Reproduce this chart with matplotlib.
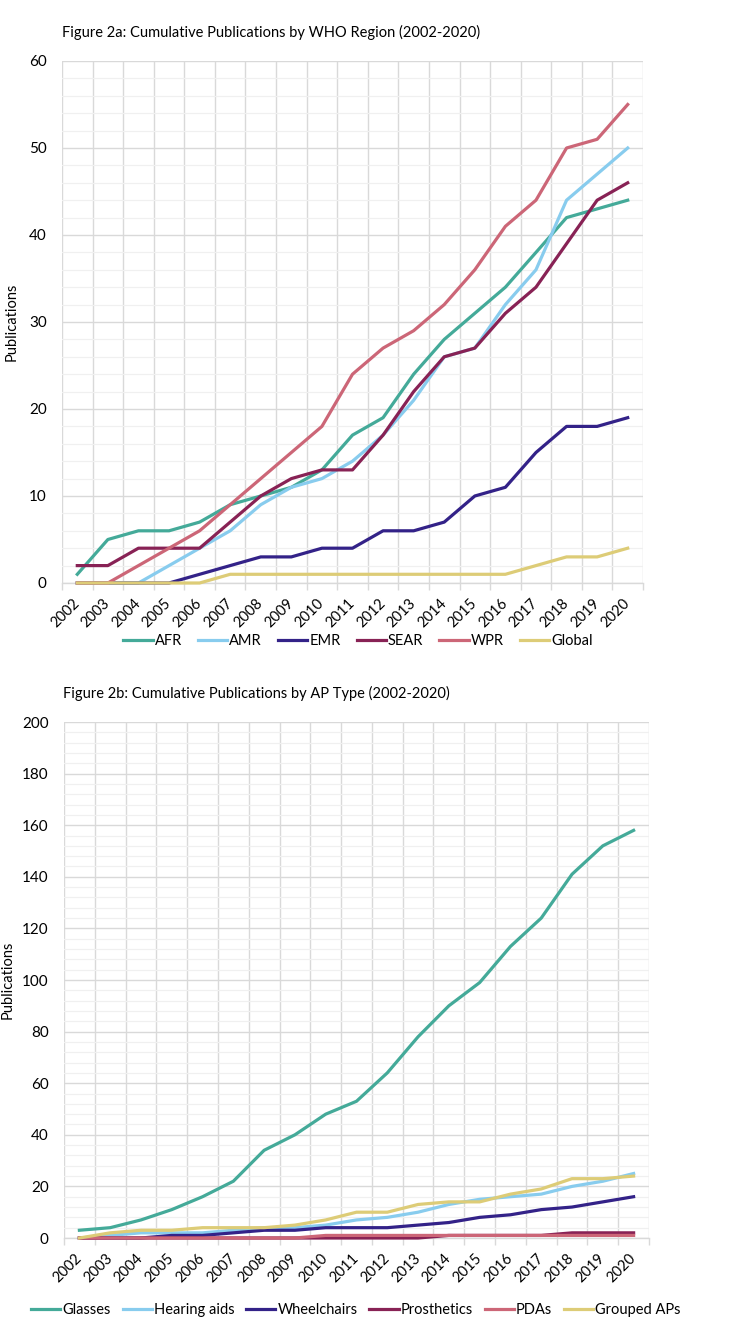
import matplotlib
matplotlib.use("Agg")
import matplotlib.pyplot as plt
import numpy as np

plt.rcParams['font.family'] = ['Lato', 'DejaVu Sans']

years = [str(y) for y in range(2002, 2021)]

# Figure 2a: cumulative publications by WHO region
afr    = [1, 5, 6, 6, 7, 9, 10, 11, 13, 17, 19, 24, 28, 31, 34, 38, 42, 43, 44]
amr    = [0, 0, 0, 2, 4, 6, 9, 11, 12, 14, 17, 21, 26, 27, 32, 36, 44, 47, 50]
emr    = [0, 0, 0, 0, 1, 2, 3, 3, 4, 4, 6, 6, 7, 10, 11, 15, 18, 18, 19]
sear   = [2, 2, 4, 4, 4, 7, 10, 12, 13, 13, 17, 22, 26, 27, 31, 34, 39, 44, 46]
wpr    = [0, 0, 2, 4, 6, 9, 12, 15, 18, 24, 27, 29, 32, 36, 41, 44, 50, 51, 55]
glob   = [0, 0, 0, 0, 0, 1, 1, 1, 1, 1, 1, 1, 1, 1, 1, 2, 3, 3, 4]
region_labels = ['AFR', 'AMR', 'EMR', 'SEAR', 'WPR', 'Global']

# Figure 2b: cumulative publications by AP type
glasses     = [3, 4, 7, 11, 16, 22, 34, 40, 48, 53, 64, 78, 90, 99, 113, 124, 141, 152, 158]
hearing     = [0, 1, 2, 2, 2, 3, 4, 4, 5, 7, 8, 10, 13, 15, 16, 17, 20, 22, 25]
wheelchairs = [0, 0, 0, 1, 1, 2, 3, 3, 4, 4, 4, 5, 6, 8, 9, 11, 12, 14, 16]
prosthetics = [0, 0, 0, 0, 0, 0, 0, 0, 0, 0, 0, 0, 1, 1, 1, 1, 2, 2, 2]
pdas        = [0, 0, 0, 0, 0, 0, 0, 0, 1, 1, 1, 1, 1, 1, 1, 1, 1, 1, 1]
grouped     = [0, 2, 3, 3, 4, 4, 4, 5, 7, 10, 10, 13, 14, 14, 17, 19, 23, 23, 24]
ap_labels = ['Glasses', 'Hearing aids', 'Wheelchairs', 'Prosthetics', 'PDAs', 'Grouped APs']

colors = ['#44AA99', '#88CCEE', '#332288', '#882255', '#CC6677', '#DDCC77']

W, H = 750, 1333
fig = plt.figure(figsize=(7.5, 13.33), dpi=100)

FS = 10.5
GRID_MAJ = '#D9D9D9'
GRID_MIN = '#F0F0F0'


def style_axes(ax, ymax, ymaj, ymin_step):
    n = len(years)
    x = np.arange(n)
    ax.set_xlim(-0.5, n - 0.5)
    ax.set_ylim(0, ymax)
    ax.set_xticks(x)
    ax.set_xticklabels(years, rotation=45, ha='right', va='center',
                       rotation_mode='anchor', fontsize=FS)
    ax.set_xticks(np.arange(-0.5, n, 1.0), minor=True)
    ax.set_yticks(np.arange(0, ymax + 0.01, ymaj))
    ax.set_yticks(np.arange(0, ymax + 0.01, ymin_step), minor=True)
    ax.tick_params(axis='x', which='major', length=0, pad=13)
    ax.tick_params(axis='x', which='minor', length=5, color=GRID_MAJ, width=1)
    ax.tick_params(axis='y', which='both', length=0, pad=11, labelsize=FS + 0.5)
    ax.grid(False)
    ax.grid(axis='y', which='minor', color=GRID_MIN, linewidth=0.9, zorder=0)
    ax.grid(axis='y', which='major', color=GRID_MAJ, linewidth=1.0, zorder=0)
    ax.grid(axis='x', which='minor', color=GRID_MAJ, linewidth=1.0, zorder=0)
    for s in ['top', 'right', 'left']:
        ax.spines[s].set_visible(False)
    ax.spines['bottom'].set_color(GRID_MAJ)
    ax.spines['bottom'].set_linewidth(1.0)
    ax.set_axisbelow(True)
    ax.set_ylabel('Publications', fontsize=FS)
    return x


# ---- Top chart ----
ax1 = fig.add_axes([62 / W, 1 - 583 / H, 581 / W, 522 / H])
x = style_axes(ax1, 60, 10, 2)
ax1.yaxis.set_label_coords(-0.075, 0.5)
for series, lab, c in zip([afr, amr, emr, sear, wpr, glob], region_labels, colors):
    ax1.plot(x, series, color=c, linewidth=2.3, label=lab, clip_on=False, zorder=3)
fig.text(62 / W, 1 - 32 / H,
         'Figure 2a: Cumulative Publications by WHO Region (2002-2020)',
         fontsize=FS, va='center', ha='left')
h, l = ax1.get_legend_handles_labels()
fig.legend(h, l, loc='center', bbox_to_anchor=(358 / W, 1 - 641 / H), ncol=6,
           frameon=False, fontsize=FS, handlelength=2.0, handletextpad=0.15,
           columnspacing=1.1, borderaxespad=0)

# ---- Bottom chart ----
ax2 = fig.add_axes([64 / W, 1 - 1238 / H, 585 / W, 516 / H])
x = style_axes(ax2, 200, 20, 4)
ax2.yaxis.set_label_coords(-0.085, 0.5)
for series, lab, c in zip([glasses, hearing, wheelchairs, prosthetics, pdas, grouped],
                          ap_labels, colors):
    ax2.plot(x, series, color=c, linewidth=2.3, label=lab, clip_on=False, zorder=3)
fig.text(63 / W, 1 - 693 / H,
         'Figure 2b: Cumulative Publications by AP Type (2002-2020)',
         fontsize=FS, va='center', ha='left')
h, l = ax2.get_legend_handles_labels()
fig.legend(h, l, loc='center', bbox_to_anchor=(356 / W, 1 - 1310 / H), ncol=6,
           frameon=False, fontsize=FS, handlelength=2.0, handletextpad=0.15,
           columnspacing=0.8, borderaxespad=0)

fig.savefig('out.png', dpi=100, facecolor='white')
